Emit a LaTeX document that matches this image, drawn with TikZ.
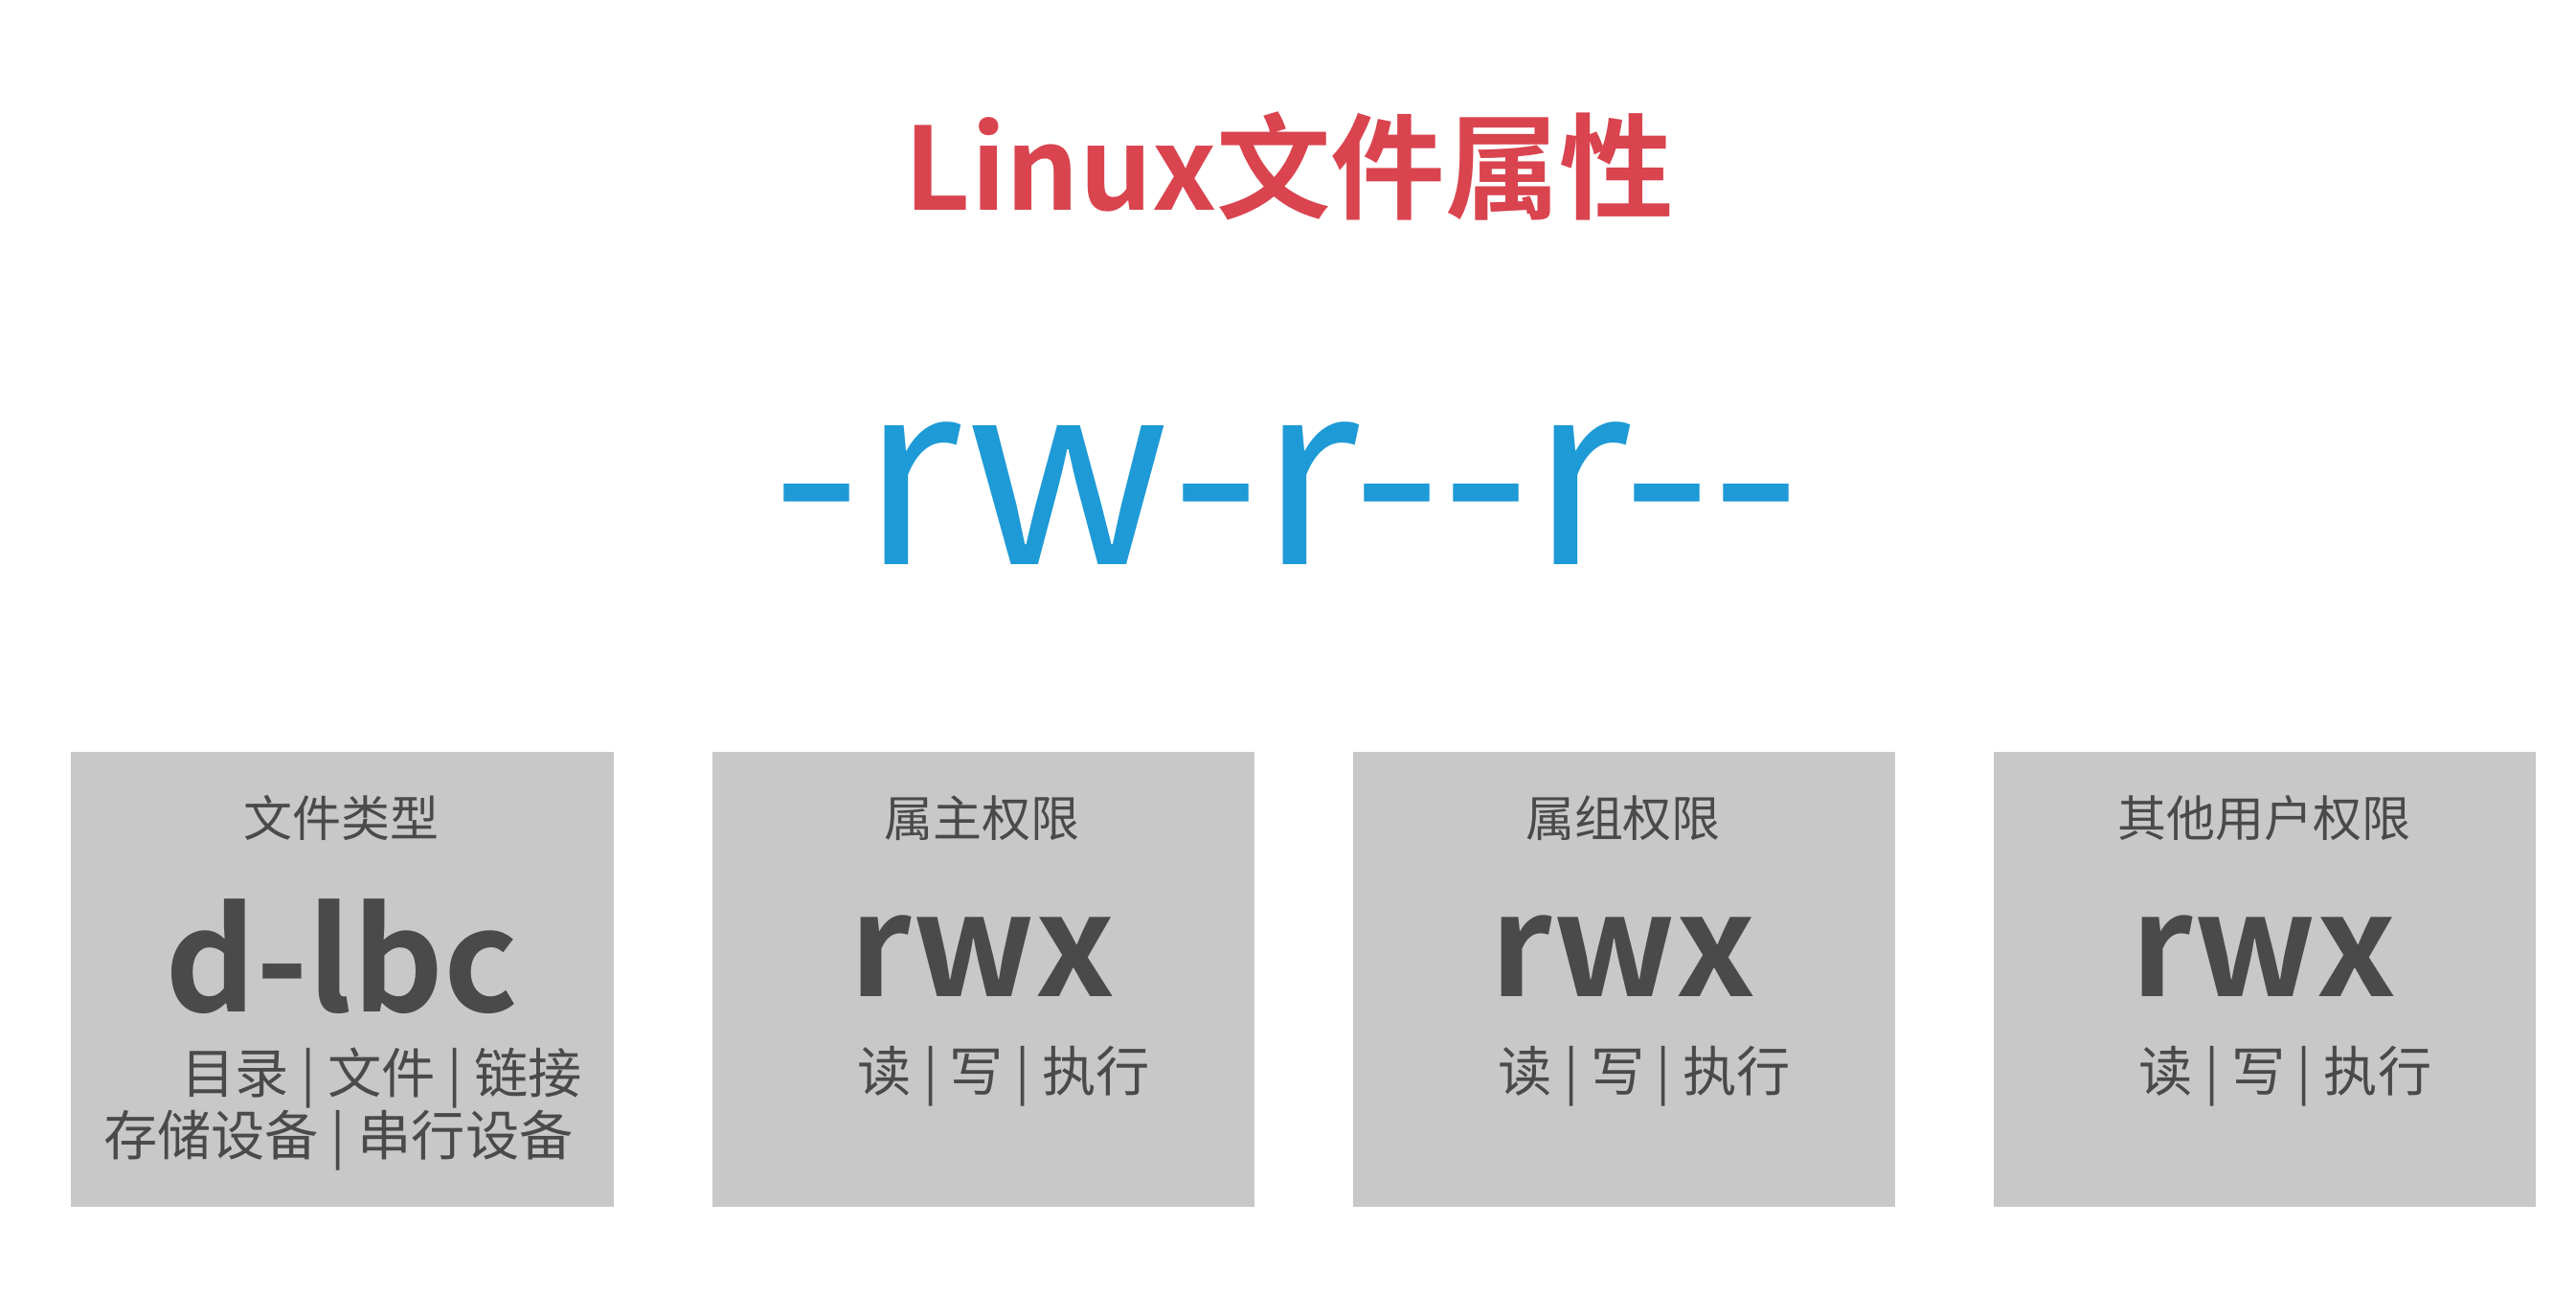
\documentclass[tikz,border=0pt]{standalone}
\usepackage{fontspec}
\setmainfont{Noto Sans CJK SC}
\newfontfamily\boldcjk{Noto Sans CJK SC Bold}
\newfontfamily\permfont[Ligatures=NoCommon]{Noto Sans CJK SC}
\usetikzlibrary{positioning}
\definecolor{titlered}{HTML}{D9444F}
\definecolor{permblue}{HTML}{1E9AD6}
\definecolor{boxgray}{HTML}{C8C8C8}
\definecolor{textgray}{HTML}{4A4A4A}
\begin{document}
\begin{tikzpicture}[x=0.017156cm, y=-0.017156cm]

\tikzstyle{permbox} = [rectangle, fill=boxgray, minimum width=330*0.017156cm, minimum height=277*0.017156cm, anchor=north west, inner sep=0pt]
\tikzstyle{boxhead} = [font=\fontsize{14.5}{16}\selectfont, text=textgray]
\tikzstyle{boxbig} = [font=\boldcjk\fontsize{42}{44}\selectfont, text=textgray]
\tikzstyle{boxnote} = [font=\fontsize{16}{18.5}\selectfont, text=textgray, align=center]

\fill[white] (0,0) rectangle (1568,787);

\node (title) [font=\boldcjk\fontsize{34}{38}\selectfont, text=titlered] at (785,101) {Linux文件属性};
\node (perm) [font=\permfont\fontsize{76}{80}\selectfont, text=permblue] at (783,300) {-rw-r{-}{-}r{-}{-}};

\node (type) [permbox] at (43,457) {};
\node (owner) [permbox] at (433,457) {};
\node (group) [permbox] at (823,457) {};
\node (other) [permbox] at (1213,457) {};

\node (typehead) [boxhead] at (208,498) {文件类型};
\node (typebig) [boxbig] at (208,582) {d-lbc};
\node (typenote) [boxnote] at (206,675) {\hspace*{1.6em}目录 | 文件 | 链接\\存储设备 | 串行设备};

\node (ownerhead) [boxhead] at (598,498) {属主权限};
\node (ownerbig) [boxbig] at (598,582) {rwx};
\node (ownernote) [boxnote] at (611,655) {读 | 写 | 执行};

\node (grouphead) [boxhead] at (988,498) {属组权限};
\node (groupbig) [boxbig] at (988,582) {rwx};
\node (groupnote) [boxnote] at (1001,655) {读 | 写 | 执行};

\node (otherhead) [boxhead] at (1378,498) {其他用户权限};
\node (otherbig) [boxbig] at (1378,582) {rwx};
\node (othernote) [boxnote] at (1391,655) {读 | 写 | 执行};
\end{tikzpicture}
\end{document}
